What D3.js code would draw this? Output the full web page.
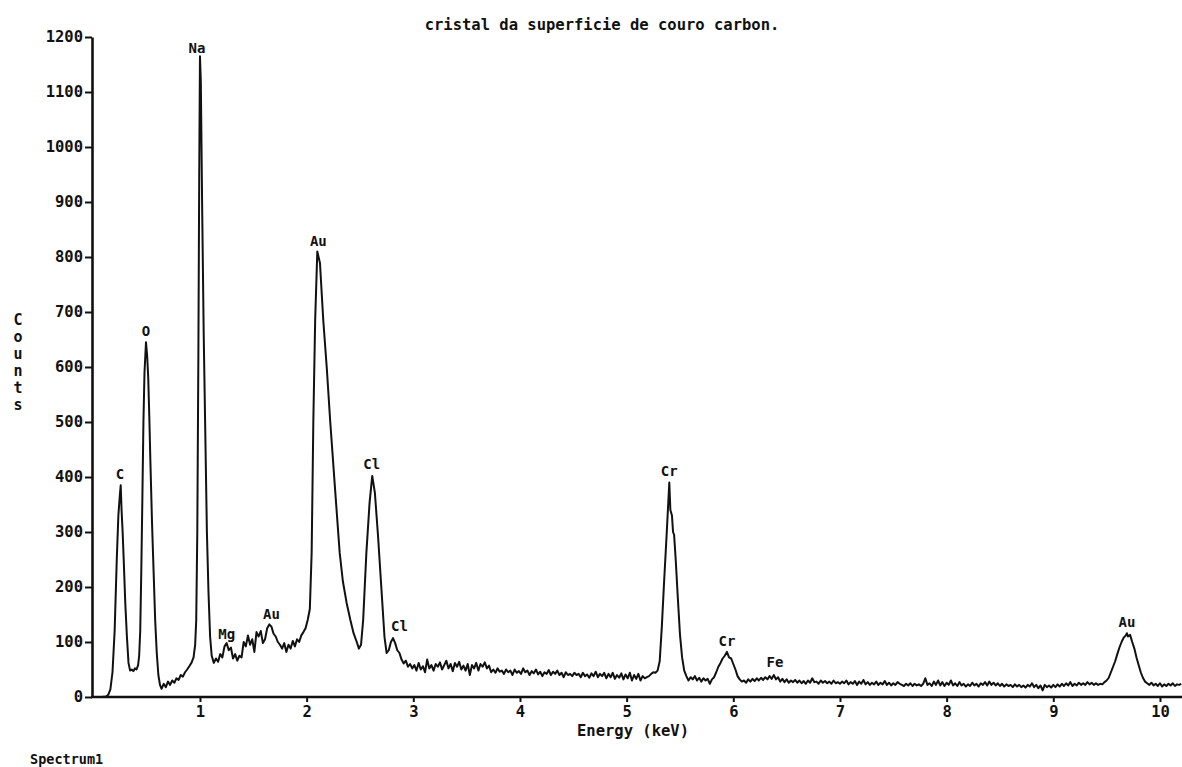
<!DOCTYPE html>
<html>
<head>
<meta charset="utf-8">
<script src="https://cdn.jsdelivr.net/npm/d3@7"></script>
<style>
	body { margin: 0; background: #fff; }
	svg { display: block; }
	text { font-family: 'DejaVu Sans Mono', monospace; font-weight: bold; fill: #111; }
	.axis path, .axis line { stroke: #111; stroke-width: 2.6; }
	.axis text { font-size: 15.5px; }
</style>
</head>
<body>
<svg id="chart" width="1182" height="767"></svg>
<script>
const chartTitle = 'cristal da superficie de couro carbon.';
const xTicks = [1, 2, 3, 4, 5, 6, 7, 8, 9, 10];
const yTicks = [0, 100, 200, 300, 400, 500, 600, 700, 800, 900, 1000, 1100, 1200];

// [energy keV, counts]
const spectrum = [
	[0,0],[0.04,0],[0.08,0],[0.12,1],[0.14,4],[0.16,14],[0.18,45],[0.20,120],[0.22,250],[0.235,330],[0.25,370],[0.257,385],
	[0.265,340],[0.275,300],[0.285,250],[0.30,170],[0.315,110],[0.33,62],[0.345,48],[0.36,50],[0.375,47],[0.39,52],[0.405,50],
	[0.42,58],[0.43,75],[0.44,120],[0.45,230],[0.46,360],[0.47,500],[0.48,590],[0.494,645],[0.505,620],[0.515,580],[0.525,510],
	[0.535,430],[0.55,320],[0.565,230],[0.58,140],[0.595,80],[0.61,40],[0.625,22],[0.64,15],
	[0.66,24],[0.68,18],[0.70,28],[0.72,22],[0.74,30],[0.76,26],[0.78,34],[0.80,31],[0.82,40],[0.84,37],[0.86,45],[0.88,50],
	[0.90,56],[0.92,62],[0.94,72],[0.955,95],[0.965,140],[0.975,300],[0.985,620],[0.993,950],[1.0,1165],[1.008,1120],[1.02,900],
	[1.035,660],[1.05,480],[1.065,300],[1.08,190],[1.095,110],[1.11,75],[1.13,62],[1.15,70],[1.17,64],
	[1.19,78],[1.21,72],[1.23,92],[1.25,98],[1.27,85],[1.29,90],[1.31,70],[1.33,78],[1.35,66],[1.37,75],[1.39,72],[1.41,100],
	[1.43,92],[1.45,112],[1.47,95],[1.49,105],[1.51,82],[1.53,118],[1.55,110],[1.57,120],[1.59,98],[1.61,105],[1.63,125],
	[1.65,132],[1.67,128],[1.69,115],[1.71,110],[1.73,100],[1.75,95],[1.77,88],[1.79,98],[1.81,82],[1.83,95],[1.85,88],
	[1.87,102],[1.89,92],[1.91,105],[1.93,100],[1.95,112],[1.97,118],[1.99,125],[2.01,140],[2.03,160],[2.047,262],[2.063,504],
	[2.08,685],[2.10,810],[2.125,789],[2.156,685],[2.19,595],[2.22,504],[2.265,382],[2.31,262],[2.34,210],[2.375,171],
	[2.41,140],[2.44,116],[2.47,100],[2.49,88],[2.51,95],[2.53,140],[2.56,262],[2.59,353],[2.615,402],[2.64,371],[2.67,291],
	[2.70,200],[2.73,109],[2.75,80],[2.77,85],[2.79,100],[2.81,107],[2.83,98],[2.85,85],[2.87,80],[2.89,68],[2.91,61],
	[2.93,66],[2.95,55],[2.97,60],[2.99,52],[3.01,58],
	[3.03,48],[3.05,62],[3.07,50],[3.09,56],[3.11,45],[3.13,68],[3.15,52],[3.17,58],[3.19,48],[3.21,60],[3.23,55],[3.25,63],
	[3.27,50],[3.29,58],[3.31,66],[3.33,52],[3.35,60],[3.37,47],[3.39,62],[3.41,55],[3.43,64],[3.45,50],[3.47,57],[3.49,48],
	[3.51,60],[3.53,40],[3.55,58],[3.57,52],[3.59,62],[3.61,48],[3.63,60],[3.65,55],[3.67,63],[3.69,52],[3.71,57],[3.73,45],
	[3.75,50],[3.77,44],[3.79,52],[3.81,46],[3.83,48],[3.85,42],[3.87,50],[3.89,45],[3.91,48],[3.93,40],[3.95,50],[3.97,44],
	[3.99,47],[4.01,42],[4.03,52],[4.05,45],[4.07,48],[4.09,40],[4.11,47],[4.13,43],[4.15,50],[4.17,41],[4.19,46],[4.21,38],
	[4.23,45],[4.25,42],[4.27,49],[4.29,40],[4.31,46],[4.33,42],[4.35,48],[4.37,40],[4.39,44],[4.41,36],[4.43,45],[4.45,40],
	[4.47,42],[4.49,38],[4.51,44],[4.53,40],[4.55,42],[4.57,36],[4.59,44],[4.61,38],[4.63,41],[4.65,35],[4.67,43],[4.69,38],
	[4.71,46],[4.73,36],[4.75,42],[4.77,38],[4.79,44],[4.81,34],[4.83,42],[4.85,36],[4.87,44],[4.89,33],[4.91,40],[4.93,35],
	[4.95,43],[4.97,32],[4.99,41],[5.01,34],[5.03,44],[5.05,30],[5.07,40],[5.09,33],[5.11,42],[5.13,30],[5.15,38],[5.17,34],
	[5.19,36],[5.21,38],[5.23,42],[5.25,45],
	[5.27,44],[5.29,48],[5.31,65],[5.33,128],[5.35,205],[5.375,295],[5.40,390],[5.41,340],[5.425,330],[5.435,300],[5.445,295],
	[5.46,250],[5.48,180],[5.50,114],[5.52,72],[5.54,48],[5.56,38],
	[5.58,30],[5.60,36],[5.62,32],[5.64,38],[5.66,30],[5.68,35],[5.70,28],[5.72,34],[5.74,30],[5.76,33],[5.78,24],[5.80,32],
	[5.82,36],[5.84,45],[5.86,55],[5.88,62],[5.90,70],[5.92,75],[5.94,82],[5.96,72],[5.98,70],[6.00,60],[6.02,50],[6.04,38],
	[6.06,32],[6.08,28],
	[6.10,30],[6.12,26],[6.14,32],[6.16,28],[6.18,33],[6.20,29],[6.22,34],[6.24,30],[6.26,35],[6.28,31],[6.30,36],[6.32,32],
	[6.34,38],[6.36,33],[6.38,40],[6.40,32],[6.42,36],[6.44,28],[6.46,33],[6.48,27],[6.50,32],[6.52,26],[6.54,30],[6.56,27],
	[6.58,31],[6.60,26],[6.62,30],[6.64,25],[6.66,29],[6.68,24],[6.70,30],[6.72,26],[6.74,34],[6.76,27],[6.78,28],[6.80,24],
	[6.82,30],[6.84,26],[6.86,29],[6.88,25],[6.90,28],[6.92,24],[6.94,30],[6.96,25],[6.98,27],[7.00,24],[7.02,28],[7.04,25],
	[7.06,30],[7.08,23],[7.10,27],[7.12,24],[7.14,29],[7.16,22],[7.18,28],[7.20,24],[7.22,31],[7.24,23],[7.26,27],[7.28,22],
	[7.30,26],[7.32,23],[7.34,28],[7.36,22],[7.38,26],[7.40,23],[7.42,29],[7.44,22],[7.46,26],[7.48,21],[7.50,25],[7.52,22],
	[7.54,27],[7.56,24],[7.58,22],[7.60,20],[7.62,24],[7.64,21],[7.66,25],[7.68,20],[7.70,24],[7.72,21],[7.74,23],[7.76,20],
	[7.78,24],[7.80,34],[7.82,22],[7.84,25],[7.86,20],[7.88,28],[7.90,22],[7.92,30],[7.94,21],[7.96,27],[7.98,20],[8.00,26],
	[8.02,22],[8.04,30],[8.06,21],[8.08,25],[8.10,20],[8.12,27],[8.14,21],[8.16,24],[8.18,19],[8.20,23],[8.22,20],[8.24,26],
	[8.26,21],[8.28,24],[8.30,19],[8.32,25],[8.34,22],[8.36,27],[8.38,21],[8.40,28],[8.42,22],[8.44,26],[8.46,21],[8.48,25],
	[8.50,20],[8.52,24],[8.54,19],[8.56,23],[8.58,20],[8.60,22],[8.62,18],[8.64,23],[8.66,19],[8.68,22],[8.70,18],[8.72,21],
	[8.74,17],[8.76,22],[8.78,19],[8.80,25],[8.82,18],[8.84,22],[8.86,16],[8.88,21],[8.90,12],[8.92,22],[8.94,18],[8.96,21],
	[8.98,17],[9.00,22],[9.02,18],[9.04,23],[9.06,19],[9.08,24],[9.10,20],[9.12,25],[9.14,21],[9.16,27],[9.18,20],[9.20,24],
	[9.22,21],[9.24,26],[9.26,22],[9.28,25],[9.30,22],[9.32,27],[9.34,23],[9.36,26],[9.38,22],[9.40,25],[9.42,22],[9.44,24],
	[9.46,23],[9.48,27],[9.50,30],[9.52,35],[9.54,45],[9.56,55],[9.58,65],[9.60,78],[9.62,90],[9.64,100],[9.66,108],[9.68,112],
	[9.69,116],[9.70,110],[9.72,113],[9.74,100],[9.76,88],[9.78,72],[9.80,58],[9.82,45],[9.84,35],[9.86,28],[9.88,25],[9.90,22],
	[9.92,26],[9.94,21],[9.96,24],[9.98,20],[10.00,25],[10.02,19],[10.04,23],[10.06,20],[10.08,24],[10.10,21],[10.12,25],
	[10.14,20],[10.16,23],[10.18,22],[10.20,24]
];

// element labels: [name, energy keV, counts level of the label baseline]
const peakLabels = [
	['C', 0.25, 396], ['O', 0.494, 656], ['Na', 0.972, 1171], ['Mg', 1.25, 105], ['Au', 1.67, 142],
	['Au', 2.11, 820], ['Cl', 2.61, 415], ['Cl', 2.87, 120], ['Cr', 5.40, 402], ['Cr', 5.94, 93],
	['Fe', 6.39, 55], ['Au', 9.69, 127]
];

const yLabelLetters = ['C', 'o', 'u', 'n', 't', 's'];

//-- drawing --//

const svg = d3.select('#chart');
const axisX = 92;
const axisY = 697;

let xScale = d3.scaleLinear()
	.domain([ 0, 10.2 ])
	.range([ 93.3, 1181.3 ]);
let yScale = d3.scaleLinear()
	.domain([ 0, 1200 ])
	.range([ axisY, 37 ]);

// title
svg.append('text')
	.attr('x', 602)
	.attr('y', 30)
	.attr('text-anchor', 'middle')
	.style('font-size', '15.5px')
	.text(chartTitle);

// y axis
let yAxis = svg.append('g')
	.attr('class', 'axis')
	.attr('transform', 'translate(' + axisX + ',0)')
	.call(d3.axisLeft(yScale)
		.tickValues(yTicks)
		.tickFormat(d3.format('d'))
		.tickSize(7)
		.tickSizeOuter(0)
		.tickPadding(2));
yAxis.selectAll('.tick line').style('stroke-width', 2);

// x axis
let xAxis = svg.append('g')
	.attr('class', 'axis')
	.attr('transform', 'translate(0,' + axisY + ')')
	.call(d3.axisBottom(xScale)
		.tickValues(xTicks)
		.tickFormat(d3.format('d'))
		.tickSize(5)
		.tickSizeOuter(0)
		.tickPadding(4));
xAxis.select('.domain').attr('d', 'M' + (axisX - 1) + ',0H1182');
xAxis.selectAll('.tick line').style('stroke-width', 2);

// spectrum trace
let line = d3.line()
	.x(function(d) { return xScale(d[0]); })
	.y(function(d) { return yScale(d[1]); });

svg.append('path')
	.datum(spectrum)
	.attr('d', line)
	.style('fill', 'none')
	.style('stroke', '#111')
	.style('stroke-width', 2)
	.style('stroke-linejoin', 'round');

// element labels
svg.append('g')
	.selectAll('text')
	.data(peakLabels)
	.join('text')
	.attr('x', function(d) { return xScale(d[1]); })
	.attr('y', function(d) { return yScale(d[2]); })
	.attr('text-anchor', 'middle')
	.style('font-size', '14px')
	.text(function(d) { return d[0]; });

// vertical "Counts"
svg.append('g')
	.selectAll('text')
	.data(yLabelLetters)
	.join('text')
	.attr('x', 18)
	.attr('y', function(d, i) { return 325 + i * 17; })
	.attr('text-anchor', 'middle')
	.style('font-size', '15px')
	.text(function(d) { return d; });

svg.append('text')
	.attr('x', 633)
	.attr('y', 736)
	.attr('text-anchor', 'middle')
	.style('font-size', '15.5px')
	.text('Energy (keV)');

svg.append('text')
	.attr('x', 30)
	.attr('y', 764)
	.style('font-size', '13.5px')
	.text('Spectrum1');
</script>
</body>
</html>
